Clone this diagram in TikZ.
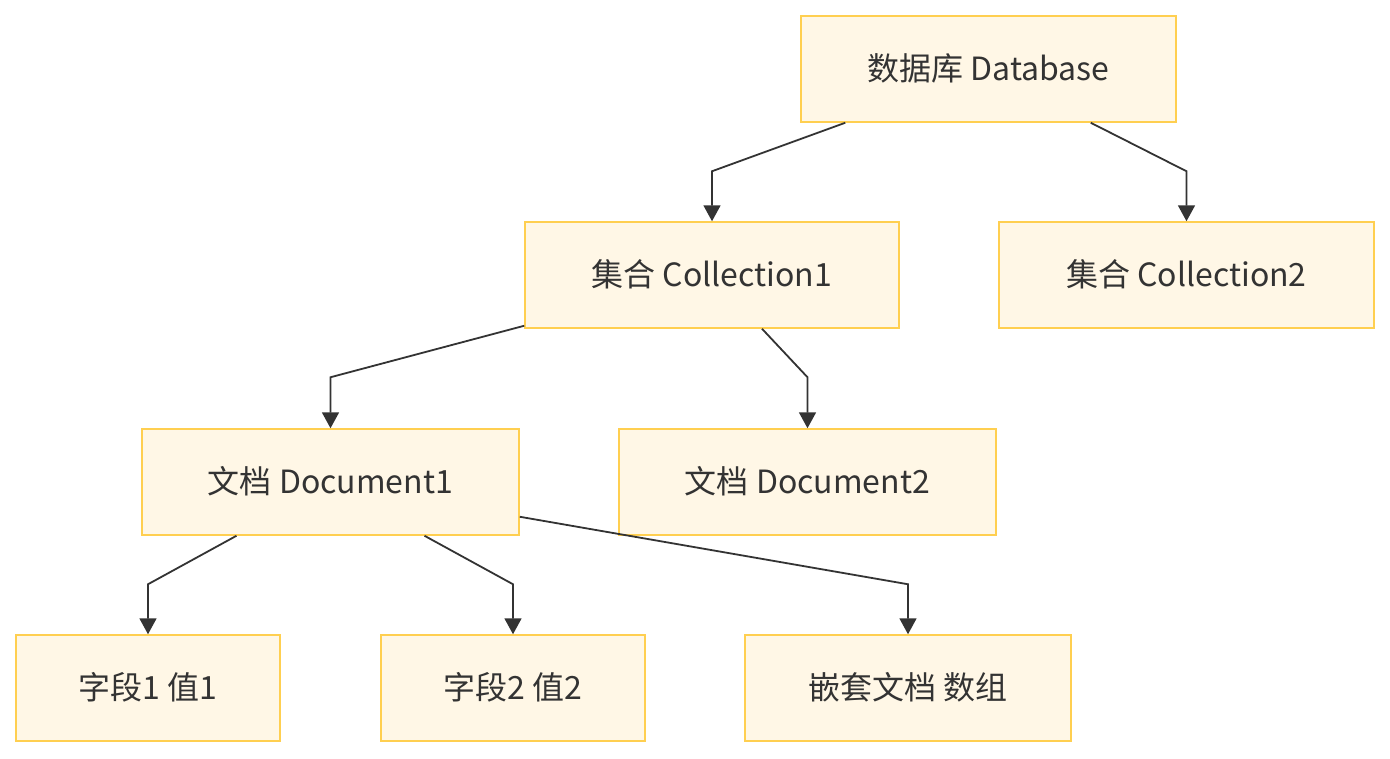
\documentclass[tikz,border=0pt]{standalone}
\usepackage{fontspec}
\setmainfont{Noto Sans CJK SC}
\usetikzlibrary{arrows.meta}
\definecolor{boxfill}{RGB}{255,247,230}
\definecolor{boxline}{RGB}{255,207,80}
\definecolor{linkcol}{RGB}{51,51,51}
\tikzset{
  box/.style={draw=boxline, fill=boxfill, line width=1.5, inner sep=0,
    minimum height=106, text=linkcol, font=\fontsize{32}{38}\selectfont},
  arr/.style={draw=linkcol, line width=1.8,
    -{Triangle[length=16,width=17]}}
}
\begin{document}
\begin{tikzpicture}[x=1pt,y=-1pt]
\useasboundingbox (0,0) rectangle (1390,758);

%Boxes
\node [box, minimum width=375] (db) at (988.5,69) {\raisebox{4.5pt}{数据库 Database}};
\node [box, minimum width=374] (coll1) at (712,275) {\raisebox{4.5pt}{集合 Collection1}};
\node [box, minimum width=375] (coll2) at (1186.5,275) {\raisebox{4.5pt}{集合 Collection2}};
\node [box, minimum width=377] (doc1) at (330.5,482) {\raisebox{4.5pt}{文档 Document1}};
\node [box, minimum width=377] (doc2) at (807.5,482) {\raisebox{4.5pt}{文档 Document2}};
\node [box, minimum width=264] (fld1) at (148,688) {\raisebox{4.5pt}{字段1 值1}};
\node [box, minimum width=264] (fld2) at (513,688) {\raisebox{4.5pt}{字段2 值2}};
\node [box, minimum width=326] (nest) at (908,688) {\raisebox{4.5pt}{嵌套文档 数组}};

%Links
\draw [arr] ([xshift=45]db.south west) -- ([yshift=50]coll1.north) -- (coll1.north);
\draw [arr] ([xshift=-86]db.south east) -- ([yshift=50]coll2.north) -- (coll2.north);
\draw [arr] ([yshift=3]coll1.south west) -- ([yshift=51]doc1.north) -- (doc1.north);
\draw [arr] ([xshift=50]coll1.south) -- ([yshift=51]doc2.north) -- (doc2.north);
\draw [arr] ([xshift=-94]doc1.south) -- ([yshift=50]fld1.north) -- (fld1.north);
\draw [arr] ([xshift=94]doc1.south) -- ([yshift=50]fld2.north) -- (fld2.north);
\draw [arr] ([yshift=19]doc1.south east) -- ([yshift=50]nest.north) -- (nest.north);

\end{tikzpicture}
\end{document}
